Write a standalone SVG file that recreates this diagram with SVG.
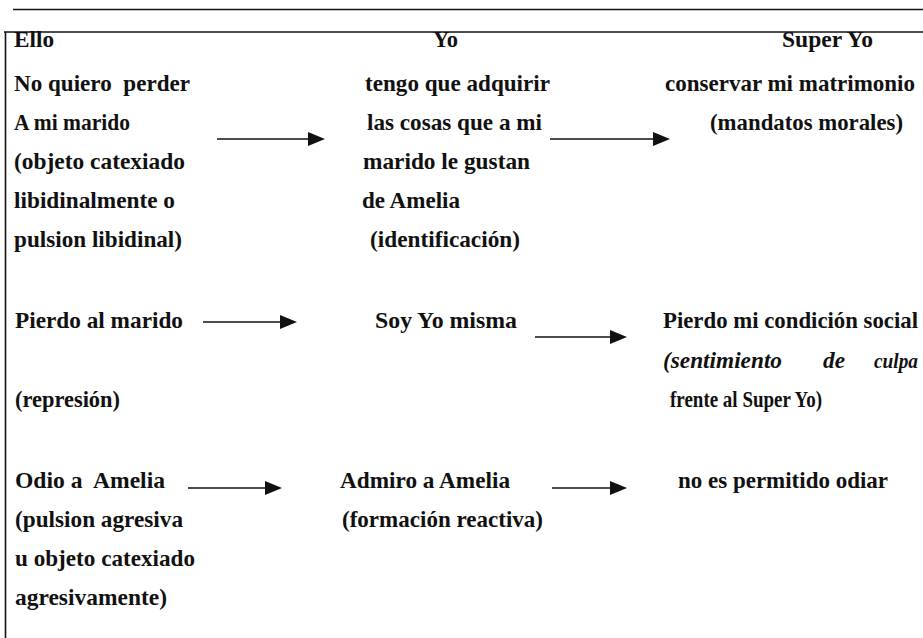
<svg xmlns="http://www.w3.org/2000/svg" width="923" height="638" viewBox="0 0 923 638">
<style>
text{font-family:"Liberation Serif","Times New Roman",serif;font-size:23px;font-weight:bold;fill:#111;}
.it{font-style:italic;}
.rule{stroke:#111;stroke-width:1.6;fill:none;}
.arrow{stroke:#111;stroke-width:1.6;fill:none;marker-end:url(#ah);}
</style>
<defs>
<marker id="ah" markerUnits="userSpaceOnUse" markerWidth="17" markerHeight="14" refX="9" refY="7" orient="auto">
<path d="M0,0 L17,7 L0,14 z" fill="#111"/>
</marker>
</defs>
<rect width="923" height="638" fill="#fff"/>
<g id="frame">
<line class="rule" x1="13" y1="9.5" x2="923" y2="9.5"/>
<line class="rule" x1="4" y1="32" x2="923" y2="32"/>
<line class="rule" x1="5.5" y1="32" x2="5.5" y2="638"/>
</g>
<g id="ello-1">
<text x="14" y="47" textLength="40" lengthAdjust="spacingAndGlyphs">Ello</text>
<text x="14" y="91" xml:space="preserve" textLength="176" lengthAdjust="spacingAndGlyphs">No quiero  perder</text>
<text x="14" y="130" textLength="116" lengthAdjust="spacingAndGlyphs">A mi marido</text>
<text x="14" y="169" textLength="171" lengthAdjust="spacingAndGlyphs">(objeto catexiado</text>
<text x="14" y="208" textLength="161" lengthAdjust="spacingAndGlyphs">libidinalmente o</text>
<text x="14" y="247" textLength="168" lengthAdjust="spacingAndGlyphs">pulsion libidinal)</text>
</g>
<g id="yo-1">
<text x="433" y="47" textLength="25" lengthAdjust="spacingAndGlyphs">Yo</text>
<text x="365" y="91" textLength="185" lengthAdjust="spacingAndGlyphs">tengo que adquirir</text>
<text x="367" y="130" textLength="175" lengthAdjust="spacingAndGlyphs">las cosas que a mi</text>
<text x="363" y="169" textLength="167" lengthAdjust="spacingAndGlyphs">marido le gustan</text>
<text x="362" y="208" textLength="98" lengthAdjust="spacingAndGlyphs">de Amelia</text>
<text x="370" y="247" textLength="150" lengthAdjust="spacingAndGlyphs">(identificación)</text>
</g>
<g id="superyo-1">
<text x="782" y="47" textLength="91" lengthAdjust="spacingAndGlyphs">Super Yo</text>
<text x="665" y="91" textLength="250" lengthAdjust="spacingAndGlyphs">conservar mi matrimonio</text>
<text x="710" y="130" textLength="193" lengthAdjust="spacingAndGlyphs">(mandatos morales)</text>
</g>
<g id="ello-2">
<text x="15" y="328" textLength="168" lengthAdjust="spacingAndGlyphs">Pierdo al marido</text>
<text x="15" y="407" textLength="105" lengthAdjust="spacingAndGlyphs">(represión)</text>
</g>
<g id="yo-2">
<text x="375" y="328" textLength="142" lengthAdjust="spacingAndGlyphs">Soy Yo misma</text>
</g>
<g id="superyo-2">
<text x="663" y="328" textLength="255" lengthAdjust="spacingAndGlyphs">Pierdo mi condición social</text>
<text class="it" x="663" y="368" textLength="119" lengthAdjust="spacingAndGlyphs">(sentimiento</text>
<text class="it" x="823" y="368" textLength="22" lengthAdjust="spacingAndGlyphs">de</text>
<text class="it" x="874" y="368" style="font-size:20px" textLength="44" lengthAdjust="spacingAndGlyphs">culpa</text>
<text x="670" y="407" textLength="152" lengthAdjust="spacingAndGlyphs">frente al Super Yo)</text>
</g>
<g id="ello-3">
<text x="15" y="488" xml:space="preserve" textLength="150" lengthAdjust="spacingAndGlyphs">Odio a  Amelia</text>
<text x="15" y="527" textLength="168" lengthAdjust="spacingAndGlyphs">(pulsion agresiva</text>
<text x="15" y="566" textLength="180" lengthAdjust="spacingAndGlyphs">u objeto catexiado</text>
<text x="15" y="605" textLength="152" lengthAdjust="spacingAndGlyphs">agresivamente)</text>
</g>
<g id="yo-3">
<text x="340" y="488" textLength="170" lengthAdjust="spacingAndGlyphs">Admiro a Amelia</text>
<text x="342" y="527" textLength="201" lengthAdjust="spacingAndGlyphs">(formación reactiva)</text>
</g>
<g id="superyo-3">
<text x="678" y="488" textLength="210" lengthAdjust="spacingAndGlyphs">no es permitido odiar</text>
</g>
<g id="connectors">
<line class="arrow" x1="217" y1="139" x2="317" y2="139"/>
<line class="arrow" x1="550" y1="139" x2="662" y2="139"/>
<line class="arrow" x1="203" y1="322" x2="289" y2="322"/>
<line class="arrow" x1="535" y1="337" x2="619" y2="337"/>
<line class="arrow" x1="188" y1="488" x2="274" y2="488"/>
<line class="arrow" x1="552" y1="488" x2="619" y2="488"/>
</g>
</svg>
